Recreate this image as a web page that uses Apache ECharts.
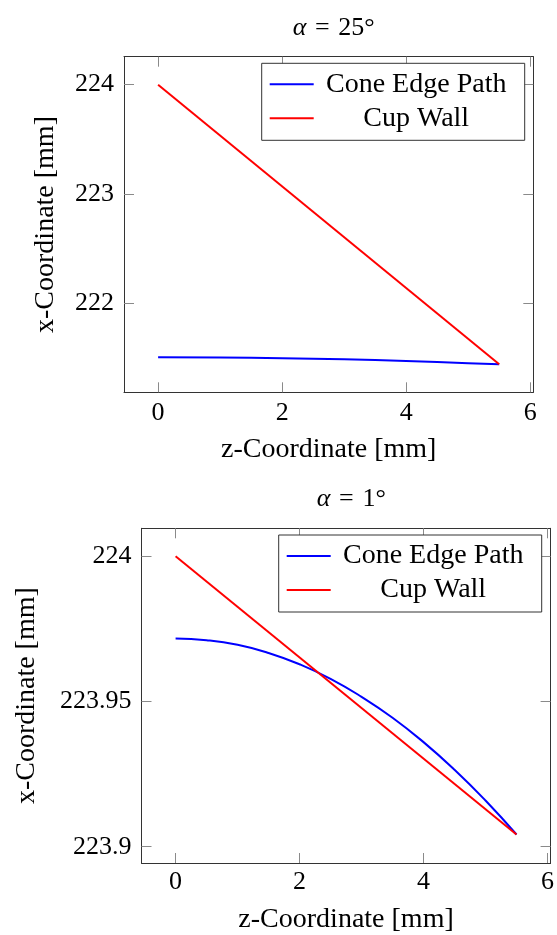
<!DOCTYPE html>
<html>
<head>
<meta charset="utf-8">
<title>Cone Edge Path vs Cup Wall</title>
<script src="https://cdn.jsdelivr.net/npm/echarts@6/dist/echarts.min.js"></script>
<style>
  html, body { margin: 0; padding: 0; background: #fff; }
  #chart { width: 557px; height: 935px; }
</style>
</head>
<body>
<div id="chart"></div>
<script>
// data
var xTicks = [0, 2, 4, 6]
var yTicksTop = [222, 223, 224]
var yTicksBottom = [223.9, 223.95, 224]

// alpha = 25 deg
var zTop = [0, 1, 2, 3, 4, 5, 5.5]
var coneTop = [221.505, 221.503, 221.496, 221.486, 221.471, 221.451, 221.44]
var wallTopZ = [0, 5.5]
var wallTop = [224, 221.44]

// alpha = 1 deg
var zBottom = [0, 0.5, 1, 1.5, 2, 2.5, 3, 3.5, 4, 4.5, 5, 5.5]
var coneBottom = [223.9717, 223.9711, 223.9695, 223.9667, 223.9628, 223.9578,
  223.9516, 223.9444, 223.9360, 223.9265, 223.9159, 223.9042]
var wallBottomZ = [0, 5.5]
var wallBottom = [224, 223.9042]

var FONT = '"Liberation Serif", "DejaVu Serif", serif'
var BORDER = '#333'
var TICK = '#8a8a8a'

function pairs(xs, ys) {
  return xs.map(function (x, i) { return [x, ys[i]] })
}

function xAxes(grid, labelMargin) {
  var base = {
    gridIndex: grid,
    type: 'value',
    min: -0.55,
    max: 6.05,
    splitLine: { show: false },
    axisLine: { show: true, onZero: false, lineStyle: { color: BORDER, width: 1 } },
    axisTick: { show: true, inside: true, length: 10, customValues: xTicks, lineStyle: { color: TICK } }
  }
  return [
    Object.assign({}, base, {
      position: 'bottom',
      name: 'z-Coordinate [mm]',
      nameLocation: 'middle',
      nameGap: 43,
      nameTextStyle: { fontFamily: FONT, fontSize: 28, color: '#000' },
      axisLabel: { customValues: xTicks, margin: labelMargin, fontFamily: FONT, fontSize: 26, color: '#000' }
    }),
    Object.assign({}, base, { position: 'top', axisLabel: { show: false } })
  ]
}

function yAxes(grid, min, max, ticks, nameGap) {
  var base = {
    gridIndex: grid,
    type: 'value',
    min: min,
    max: max,
    splitLine: { show: false },
    axisLine: { show: true, onZero: false, lineStyle: { color: BORDER, width: 1 } },
    axisTick: { show: true, inside: true, length: 10, customValues: ticks, lineStyle: { color: TICK } }
  }
  return [
    Object.assign({}, base, {
      position: 'left',
      name: 'x-Coordinate [mm]',
      nameLocation: 'middle',
      nameGap: nameGap,
      nameTextStyle: { fontFamily: FONT, fontSize: 28, color: '#000' },
      axisLabel: {
        customValues: ticks, margin: 10, fontFamily: FONT, fontSize: 26, color: '#000',
        formatter: function (v) { return String(+v.toFixed(4)) }
      }
    }),
    Object.assign({}, base, { position: 'right', axisLabel: { show: false } })
  ]
}

function legend(left, top) {
  return {
    orient: 'vertical',
    left: left,
    top: top,
    padding: [7, 11, 8, 8],
    icon: 'rect',
    itemWidth: 44,
    itemHeight: 2,
    itemGap: 6,
    borderColor: BORDER,
    borderWidth: 1,
    backgroundColor: '#fff',
    data: ['Cone Edge Path', 'Cup Wall'],
    formatter: function (name) { return '{c|' + name + '}' },
    textStyle: {
      rich: {
        c: { width: 195, align: 'center', fontFamily: FONT, fontSize: 28, lineHeight: 28, color: '#000' }
      }
    }
  }
}

function titleStyle() {
  return {
    fontWeight: 'normal',
    rich: {
      i: { fontFamily: FONT, fontSize: 26, fontStyle: 'italic', fontWeight: 'normal', color: '#000' },
      n: { fontFamily: FONT, fontSize: 26, fontWeight: 'normal', color: '#000' }
    }
  }
}

function line(name, color, xAxisIndex, yAxisIndex, data) {
  return {
    name: name,
    type: 'line',
    xAxisIndex: xAxisIndex,
    yAxisIndex: yAxisIndex,
    data: data,
    smooth: true,
    symbol: 'none',
    color: color,
    lineStyle: { color: color, width: 2 },
    z: 3
  }
}

var chart = echarts.init(document.getElementById('chart'), null, { renderer: 'canvas' })

chart.setOption({
  animation: false,
  backgroundColor: '#fff',
  title: [
    { text: '{i|α}{n|\u2004=\u200425°}', left: 328.7, top: 10, textAlign: 'center', textStyle: titleStyle() },
    { text: '{i|α}{n|\u2004=\u20041°}', left: 346.3, top: 481, textAlign: 'center', textStyle: titleStyle() }
  ],
  grid: [
    { left: 124, top: 56.7, width: 409.3, height: 335.6 },
    { left: 141.5, top: 528.3, width: 409.5, height: 336 }
  ],
  legend: [legend(261.7, 63.3), legend(278.7, 535)],
  xAxis: xAxes(0, 8).concat(xAxes(1, 6)),
  yAxis: yAxes(0, 221.184, 224.256, yTicksTop, 64)
    .concat(yAxes(1, 223.8944, 224.0096, yTicksBottom, 101)),
  series: [
    line('Cone Edge Path', '#0000ff', 0, 0, pairs(zTop, coneTop)),
    line('Cup Wall', '#ff0000', 0, 0, pairs(wallTopZ, wallTop)),
    line('Cone Edge Path', '#0000ff', 2, 2, pairs(zBottom, coneBottom)),
    line('Cup Wall', '#ff0000', 2, 2, pairs(wallBottomZ, wallBottom))
  ]
})
</script>
</body>
</html>
